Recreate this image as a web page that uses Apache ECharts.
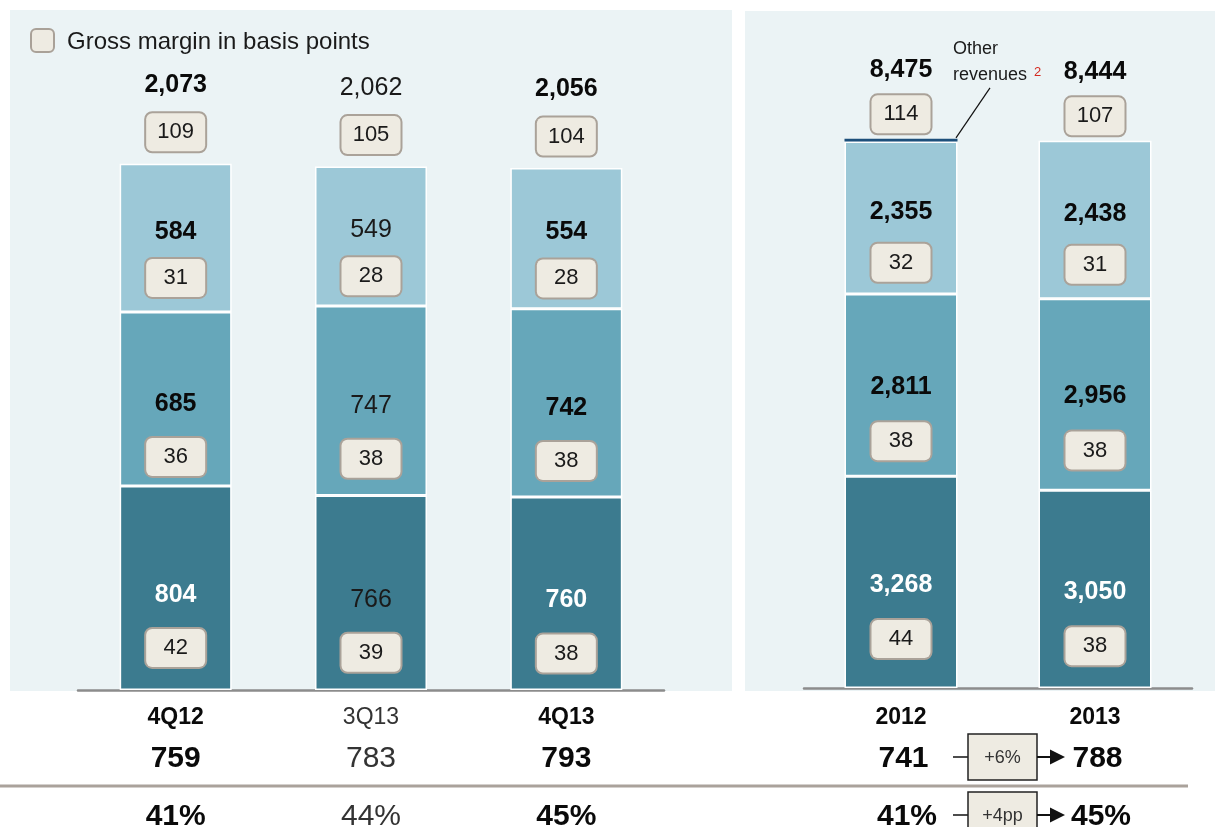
<!DOCTYPE html>
<html><head><meta charset="utf-8">
<script src="https://cdn.jsdelivr.net/npm/echarts@6/dist/echarts.min.js"></script>
<style>html,body{margin:0;padding:0;background:#fff}#c{width:1215px;height:827px}</style>
</head><body><div id="c"></div>
<script>
// ---- data ----
const quarters = ['4Q12', '3Q13', '4Q13'];
const quarterBold = [true, false, true];
const qBottom = [804, 766, 760];
const qMid = [685, 747, 742];
const qTop = [584, 549, 554];
const qTotal = [2073, 2062, 2056];
const qGmBottom = [42, 39, 38];
const qGmMid = [36, 38, 38];
const qGmTop = [31, 28, 28];
const qGmTotal = [109, 105, 104];
const qRowValue = [759, 783, 793];
const qRowPct = ['41%', '44%', '45%'];

const years = ['2012', '2013'];
const yearBold = [true, true];
const yBottom = [3268, 3050];
const yMid = [2811, 2956];
const yTop = [2355, 2438];
const yOther = [41, 0];
const yTotal = [8475, 8444];
const yGmBottom = [44, 38];
const yGmMid = [38, 38];
const yGmTop = [32, 31];
const yGmTotal = [114, 107];
const yRowValue = [741, 788];
const yRowPct = ['41%', '45%'];
const yChange = ['+6%', '+4pp'];

const legendText = 'Gross margin in basis points';
const otherLabel = ['Other', 'revenues'];
const otherNote = '2';

// ---- style ----
const FF = '"Liberation Sans", Arial, Helvetica, sans-serif';
const C_BOTTOM = '#3c7b8f', C_MID = '#66a7ba', C_TOP = '#9cc8d7';
const C_PANEL = '#ebf3f5';
const BOX = { fontSize: 22, fontFamily: FF, color: '#1a1a1a', backgroundColor: '#eeebe2', borderColor: '#aaa299',
  borderWidth: 2, borderRadius: 6, width: 47, height: 30, lineHeight: 38, padding: [4, 6, 4, 6], align: 'center' };
const fmt = n => n.toLocaleString('en-US');

function segment(name, idx, data, gms, boldArr, stack, color, whiteBold, vLH, off, barWidth) {
  return {
    type: 'bar', name, xAxisIndex: idx, yAxisIndex: idx, stack, barWidth, data,
    itemStyle: { color, borderColor: '#fff', borderWidth: 1.5 },
    label: {
      show: true, position: 'inside', offset: [0, off], fontFamily: FF,
      formatter: p => {
        const b = boldArr[p.dataIndex];
        const k = b ? (whiteBold ? 'vw' : 'vb') : 'vr';
        return '{' + k + '|' + fmt(p.value) + '}\n{bx|' + gms[p.dataIndex] + '}';
      },
      rich: {
        vb: { fontSize: 25, fontWeight: 'bold', color: '#0a0a0a', fontFamily: FF, lineHeight: vLH },
        vw: { fontSize: 25, fontWeight: 'bold', color: '#fff', fontFamily: FF, lineHeight: vLH },
        vr: { fontSize: 25, fontWeight: 'normal', color: '#1a1a1a', fontFamily: FF, lineHeight: vLH },
        bx: BOX
      }
    }
  };
}
function totals(idx, cats, vals, gms, boldArr, tLH, dist) {
  return {
    type: 'scatter', xAxisIndex: idx, yAxisIndex: idx, symbolSize: 1, silent: true,
    itemStyle: { color: 'rgba(0,0,0,0)', opacity: 1 },
    data: cats.map((c, i) => [c, vals[i]]),
    label: {
      show: true, position: 'top', distance: dist, fontFamily: FF, opacity: 1,
      formatter: p => '{' + (boldArr[p.dataIndex] ? 'tb' : 'tr') + '|' + fmt(vals[p.dataIndex]) + '}\n{bx|' + gms[p.dataIndex] + '}',
      rich: {
        tb: { fontSize: 25, fontWeight: 'bold', color: '#0a0a0a', fontFamily: FF, lineHeight: tLH },
        tr: { fontSize: 25, fontWeight: 'normal', color: '#1a1a1a', fontFamily: FF, lineHeight: tLH },
        bx: BOX
      }
    }
  };
}
function axisRich(nShift, pShift) {
  const pn = [0, 0, 0, nShift], pp = [0, 0, 0, pShift];
  return {
    cb: { fontSize: 23, fontWeight: 'bold', color: '#0a0a0a', fontFamily: FF, lineHeight: 30 },
    cr: { fontSize: 23, fontWeight: 'normal', color: '#333', fontFamily: FF, lineHeight: 30 },
    nb: { fontSize: 30, fontWeight: 'bold', color: '#0a0a0a', fontFamily: FF, lineHeight: 52, padding: pn },
    nr: { fontSize: 30, fontWeight: 'normal', color: '#333', fontFamily: FF, lineHeight: 52, padding: pn },
    pb: { fontSize: 30, fontWeight: 'bold', color: '#0a0a0a', fontFamily: FF, lineHeight: 64, padding: pp },
    pr: { fontSize: 30, fontWeight: 'normal', color: '#333', fontFamily: FF, lineHeight: 64, padding: pp }
  };
}
function xAxis(idx, cats, boldArr, rowVal, rowPct, margin, nShift, pShift) {
  return {
    type: 'category', gridIndex: idx, data: cats,
    axisLine: { show: true, lineStyle: { color: '#8c8c8c', width: 2.5 } },
    axisTick: { show: false },
    axisLabel: {
      margin, interval: 0,
      formatter: (v, i) => {
        const s = boldArr[i] ? 'b' : 'r';
        return '{c' + s + '|' + v + '}\n{n' + s + '|' + rowVal[i] + '}\n{p' + s + '|' + rowPct[i] + '}';
      },
      rich: axisRich(nShift, pShift)
    }
  };
}

const chart = echarts.init(document.getElementById('c'), null, { renderer: 'canvas' });
chart.setOption({
  animation: false,
  backgroundColor: '#fff',
  grid: [
    { left: 78, width: 586, top: 30, bottom: 137, containLabel: false, outerBoundsMode: 'none' },
    { left: 804, width: 388, top: 40, bottom: 139, containLabel: false, outerBoundsMode: 'none' }
  ],
  xAxis: [
    xAxis(0, quarters, quarterBold, qRowValue, qRowPct, 13, 0, 0),
    xAxis(1, years, yearBold, yRowValue, yRowPct, 15, 5, 12)
  ],
  yAxis: [
    { type: 'value', gridIndex: 0, min: 0, max: 2600, show: false },
    { type: 'value', gridIndex: 1, min: 0, max: 10000, show: false }
  ],
  series: [
    segment('Bottom', 0, qBottom, qGmBottom, quarterBold, 'q', C_BOTTOM, true, 68, 26, 112),
    segment('Middle', 0, qMid, qGmMid, quarterBold, 'q', C_MID, false, 68, 24, 112),
    segment('Top', 0, qTop, qGmTop, quarterBold, 'q', C_TOP, false, 54, 13, 112),
    totals(0, quarters, qTotal, qGmTotal, quarterBold, 56, 12),
    segment('Bottom', 1, yBottom, yGmBottom, yearBold, 'y', C_BOTTOM, true, 70, 22, 113),
    segment('Middle', 1, yMid, yGmMid, yearBold, 'y', C_MID, false, 70, 21, 113),
    segment('Top', 1, yTop, yGmTop, yearBold, 'y', C_TOP, false, 64, 13, 113),
    {
      type: 'bar', name: 'Other revenues', xAxisIndex: 1, yAxisIndex: 1, stack: 'y', barWidth: 113,
      data: yOther.map(v => v === 0 ? '-' : v),
      itemStyle: { color: '#5a8fb5', borderColor: '#1d4f7b', borderWidth: 1.5 }
    },
    totals(1, years, yTotal, yGmTotal, yearBold, 50, 5)
  ]
});

// ---- annotations positioned from the axes ----
const pOther = chart.convertToPixel({ xAxisIndex: 1, yAxisIndex: 1 }, [years[0], yTotal[0]]);
const p12 = chart.convertToPixel({ xAxisIndex: 1, yAxisIndex: 1 }, [years[0], 0]);
const p13 = chart.convertToPixel({ xAxisIndex: 1, yAxisIndex: 1 }, [years[1], 0]);
const mid = (p12[0] + p13[0]) / 2;
const base = p12[1];
const g = [
  { type: 'rect', z: -10, silent: true, shape: { x: 10, y: 10, width: 722, height: 681 }, style: { fill: C_PANEL } },
  { type: 'rect', z: -10, silent: true, shape: { x: 745, y: 11, width: 470, height: 680 }, style: { fill: C_PANEL } },
  { type: 'rect', shape: { x: 31, y: 29, width: 23, height: 23, r: 5 }, style: { fill: '#eeebe2', stroke: '#a9a198', lineWidth: 2 } },
  { type: 'text', x: 67, y: 42, style: { text: legendText, font: '24px ' + FF, fill: '#1a1a1a', verticalAlign: 'middle' } },
  { type: 'line', shape: { x1: 0, y1: 786, x2: 1188, y2: 786 }, style: { stroke: '#aaa29b', lineWidth: 3 } },
  { type: 'text', x: pOther[0] + 52, y: 49, style: { text: otherLabel[0], font: '18px ' + FF, fill: '#1a1a1a', verticalAlign: 'middle' } },
  { type: 'text', x: pOther[0] + 52, y: 75, style: { text: otherLabel[1], font: '18px ' + FF, fill: '#1a1a1a', verticalAlign: 'middle' } },
  { type: 'text', x: pOther[0] + 133, y: 72, style: { text: otherNote, font: '13px ' + FF, fill: '#d42a20', verticalAlign: 'middle' } },
  { type: 'line', shape: { x1: pOther[0] + 89, y1: pOther[1] - 51, x2: pOther[0] + 55, y2: pOther[1] - 1 }, style: { stroke: '#111', lineWidth: 1.2 } }
];
const rowTops = [base + 46, base + 104];
yChange.forEach((t, i) => {
  const top = rowTops[i], cy = top + 23;
  g.push({ type: 'line', shape: { x1: mid - 45, y1: cy, x2: mid - 30, y2: cy }, style: { stroke: '#111', lineWidth: 1.5 } });
  g.push({ type: 'rect', shape: { x: mid - 30, y: top, width: 69, height: 46 }, style: { fill: '#eeebe2', stroke: '#222', lineWidth: 1.5 } });
  g.push({ type: 'text', x: mid + 4.5, y: cy + 1, style: { text: t, font: '18px ' + FF, fill: '#333', align: 'center', verticalAlign: 'middle' } });
  g.push({ type: 'line', shape: { x1: mid + 39, y1: cy, x2: mid + 54, y2: cy }, style: { stroke: '#111', lineWidth: 2 } });
  g.push({ type: 'polygon', shape: { points: [[mid + 52, cy - 7.5], [mid + 67, cy], [mid + 52, cy + 7.5]] }, style: { fill: '#111' } });
});
chart.setOption({ graphic: g });
</script>
</body></html>
